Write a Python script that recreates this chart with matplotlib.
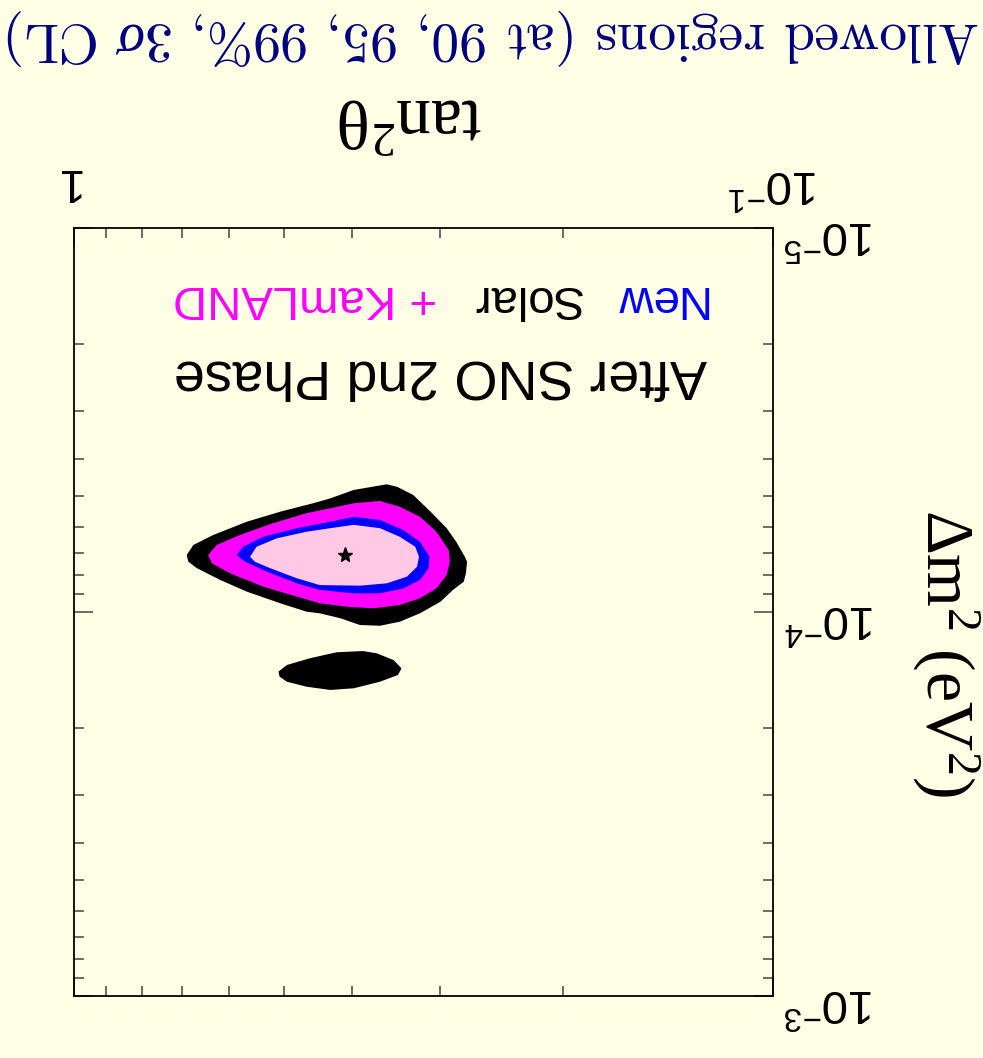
import matplotlib
matplotlib.use('Agg')
import matplotlib.pyplot as plt
from matplotlib.ticker import FixedLocator, FixedFormatter, LogLocator, NullFormatter

# the whole chart is shown turned by 180 degrees
plt.rcParams['mathtext.fontset'] = 'custom'
plt.rcParams['mathtext.rm'] = 'Liberation Serif'
plt.rcParams['mathtext.it'] = 'Liberation Serif:italic'
plt.rcParams['mathtext.bf'] = 'Liberation Serif:bold'
plt.rcParams['mathtext.sf'] = 'Liberation Sans'

bg = '#ffffe5'

# 3 sigma region (outer black)
tan2_3sig = [0.690, 0.675, 0.632, 0.566, 0.507, 0.455, 0.430, 0.398, 0.357, 0.345, 0.327,
             0.309, 0.293, 0.284, 0.276, 0.274, 0.275, 0.277, 0.287, 0.299, 0.320, 0.342,
             0.365, 0.390, 0.416, 0.445, 0.465, 0.507, 0.566, 0.618, 0.667, 0.686]
dm2_3sig = [7.11e-5, 6.69e-5, 6.30e-5, 5.82e-5, 5.48e-5, 5.21e-5, 5.06e-5, 4.81e-5, 4.65e-5,
            4.72e-5, 4.96e-5, 5.48e-5, 6.05e-5, 6.56e-5, 7.18e-5, 7.40e-5, 7.93e-5, 8.34e-5,
            8.76e-5, 9.40e-5, 1.008e-4, 1.06e-4, 1.086e-4, 1.081e-4, 1.038e-4, 1.008e-4,
            9.98e-5, 9.49e-5, 8.85e-5, 8.25e-5, 7.69e-5, 7.40e-5]

# second 3 sigma island
tan2_3sig_b = [0.510, 0.496, 0.460, 0.421, 0.386, 0.369, 0.349, 0.340, 0.344, 0.365, 0.398,
               0.430, 0.465, 0.496, 0.508]
dm2_3sig_b = [1.430e-4, 1.374e-4, 1.320e-4, 1.273e-4, 1.264e-4, 1.281e-4, 1.334e-4, 1.402e-4,
              1.459e-4, 1.519e-4, 1.580e-4, 1.596e-4, 1.565e-4, 1.519e-4, 1.474e-4]

# 99% CL
tan2_99 = [0.643, 0.625, 0.579, 0.519, 0.465, 0.430, 0.398, 0.365, 0.342, 0.320, 0.303, 0.291,
           0.290, 0.293, 0.303, 0.320, 0.342, 0.373, 0.407, 0.445, 0.480, 0.536, 0.598, 0.635]
dm2_99 = [7.11e-5, 6.69e-5, 6.30e-5, 5.87e-5, 5.53e-5, 5.37e-5, 5.21e-5, 5.14e-5, 5.32e-5,
          5.65e-5, 6.18e-5, 6.90e-5, 7.40e-5, 8.01e-5, 8.68e-5, 9.21e-5, 9.59e-5, 9.78e-5,
          9.69e-5, 9.49e-5, 9.12e-5, 8.59e-5, 7.93e-5, 7.47e-5]

# 95% CL
tan2_95 = [0.585, 0.573, 0.536, 0.480, 0.430, 0.398, 0.365, 0.338, 0.320, 0.310, 0.311, 0.320,
           0.338, 0.365, 0.398, 0.445, 0.480, 0.530, 0.569]
dm2_95 = [7.11e-5, 6.76e-5, 6.37e-5, 6.05e-5, 5.82e-5, 5.65e-5, 5.76e-5, 6.12e-5, 6.56e-5,
          7.18e-5, 7.69e-5, 8.25e-5, 8.68e-5, 8.94e-5, 8.94e-5, 8.76e-5, 8.42e-5, 7.85e-5,
          7.40e-5]

# 90% CL
tan2_90 = [0.560, 0.548, 0.513, 0.465, 0.430, 0.398, 0.365, 0.342, 0.325, 0.321, 0.323, 0.334,
           0.357, 0.390, 0.445, 0.480, 0.524, 0.551]
dm2_90 = [7.18e-5, 6.76e-5, 6.43e-5, 6.18e-5, 6.05e-5, 5.93e-5, 6.05e-5, 6.37e-5, 6.76e-5,
          7.18e-5, 7.62e-5, 8.09e-5, 8.42e-5, 8.54e-5, 8.51e-5, 8.17e-5, 7.69e-5, 7.40e-5]

best_tan2 = [0.410]
best_dm2 = [7.11e-5]

x_ticks = [0.1, 1]
x_tick_labels = [r'$\mathsf{10^{-1}}$', r'$\mathsf{1}$']
y_ticks = [1e-5, 1e-4, 1e-3]
y_tick_labels = [r'$\mathsf{10^{-5}}$', r'$\mathsf{10^{-4}}$', r'$\mathsf{10^{-3}}$']

fig = plt.figure(figsize=(9.83, 10.58), dpi=100, facecolor=bg)
ax = fig.add_axes([0.0753, 0.0586, 0.7111, 0.7259])
ax.set_facecolor(bg)
ax.set_xscale('log')
ax.set_yscale('log')
ax.set_xlim(1, 0.1)
ax.set_ylim(1e-3, 1e-5)

ax.fill(tan2_3sig, dm2_3sig, color='black', lw=0)
ax.fill(tan2_3sig_b, dm2_3sig_b, color='black', lw=0)
ax.fill(tan2_99, dm2_99, color='#ff00ff', lw=0)
ax.fill(tan2_95, dm2_95, color='#0000ff', lw=0)
ax.fill(tan2_90, dm2_90, color='#ffc8e4', lw=0)
ax.plot(best_tan2, best_dm2, marker='*', color='black', ms=11, ls='none')

ax.xaxis.set_major_locator(FixedLocator(x_ticks))
ax.xaxis.set_major_formatter(FixedFormatter(x_tick_labels))
ax.xaxis.set_minor_locator(LogLocator(subs=range(2, 10)))
ax.xaxis.set_minor_formatter(NullFormatter())
ax.yaxis.set_major_locator(FixedLocator(y_ticks))
ax.yaxis.set_major_formatter(FixedFormatter(y_tick_labels))
ax.yaxis.set_minor_locator(LogLocator(subs=range(2, 10)))
ax.yaxis.set_minor_formatter(NullFormatter())

ax.tick_params(which='both', direction='in', top=True, bottom=True, left=True, right=True,
               labeltop=True, labelbottom=False, labelright=True, labelleft=False,
               labelrotation=180, labelsize=34, color='#444444', width=1.1)
ax.tick_params(which='major', length=14)
ax.tick_params(which='minor', length=7.5)
ax.tick_params(axis='x', which='major', pad=17)
ax.tick_params(axis='y', which='major', pad=8)
for s in ax.spines.values():
    s.set_linewidth(1.3)

# labels inside the plot
ax.text(0.524, 0.809, 'After SNO 2nd Phase', transform=ax.transAxes, rotation=180,
        ha='center', va='center', fontsize=40, family='Liberation Sans')
ax.text(0.837, 0.909, 'New', transform=ax.transAxes, rotation=180, ha='center', va='center',
        fontsize=34, family='Liberation Sans', color='#0000ff')
ax.text(0.647, 0.909, 'Solar', transform=ax.transAxes, rotation=180, ha='center', va='center',
        fontsize=34, family='Liberation Sans', color='black')
ax.text(0.330, 0.909, '+ KamLAND', transform=ax.transAxes, rotation=180, ha='center',
        va='center', fontsize=34, family='Liberation Sans', color='#ff00ff')

fig.text(410 / 983, 1 - 118 / 1058, r'$\mathrm{tan}^2\mathrm{\theta}$', rotation=180,
         ha='center', va='center', fontsize=50)
fig.text(945 / 983, 1 - 653 / 1058, r'$\Delta\mathrm{m}^2\ (\mathrm{eV}^2)$', rotation=270,
         ha='center', va='center', fontsize=49)
fig.text(493 / 983, 1 - 37 / 1058, r'Allowed regions (at 90, 95, 99%, 3$\sigma$ CL)',
         rotation=180, ha='center', va='center', fontsize=40, family='cmr10', color='#000080')

fig.savefig('out.png', dpi=100, facecolor=bg)
